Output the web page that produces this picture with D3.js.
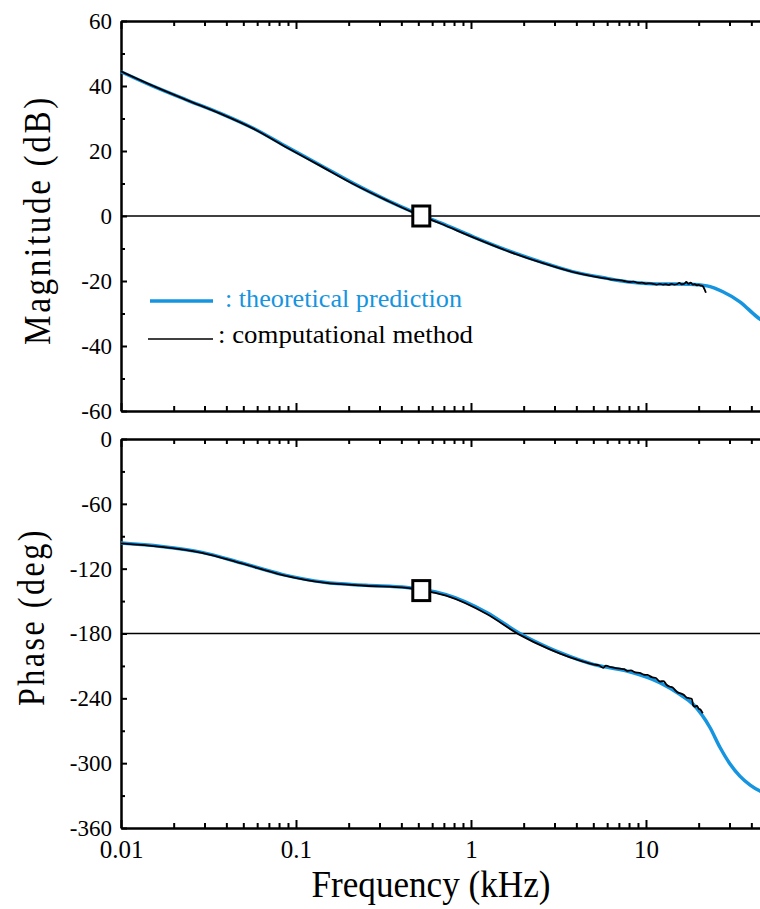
<!DOCTYPE html>
<html>
<head>
<meta charset="utf-8">
<script src="https://cdn.jsdelivr.net/npm/d3@7"></script>
<style>
  body { margin: 0; background: #fff; }
  svg text { font-family: "Liberation Serif", "Times New Roman", "DejaVu Serif", serif; fill: #000; }
</style>
</head>
<body>
<script>
// theoretical prediction (blue)
var magFreqT = [0.01, 0.015, 0.024, 0.037, 0.057, 0.089, 0.137, 0.21, 0.33, 0.47, 0.67, 1.03, 1.6, 2.5, 3.8, 6.0, 7.8, 11.5, 17.8, 22.3, 27.5, 34.4, 43, 50];
var magT     = [44.4, 40.1, 35.6, 31.6, 27.0, 21.2, 15.7, 10.2, 4.9, 1.2, -2.1, -6.4, -10.5, -14.1, -17.1, -19.2, -20.2, -20.9, -21.0, -21.5, -23.3, -26.4, -31.0, -33.5];
var phFreqT  = [0.01, 0.017, 0.029, 0.049, 0.084, 0.145, 0.25, 0.43, 0.52, 0.72, 1.23, 1.9, 2.8, 3.23, 5.0, 7.8, 12.0, 15.6, 18.6, 23.2, 26.5, 30.3, 34.4, 39.4, 44.8, 50];
var phT      = [-96.3, -99.4, -104.9, -114.8, -125.5, -132.6, -135.4, -137.5, -139.3, -144, -160.5, -180, -193.5, -197.8, -208.6, -214.8, -225.5, -236.3, -245.5, -267, -285.5, -301, -312, -320.3, -325.8, -329];

// computational method (black)
var magFreqC = [0.01, 0.015, 0.024, 0.037, 0.057, 0.089, 0.137, 0.21, 0.33, 0.47, 0.67, 1.03, 1.6, 2.5, 3.8, 5.0, 6.0, 6.5, 7.0, 7.5, 8.0, 8.5, 9.0, 9.5, 10, 10.5, 11, 11.5, 12, 12.5, 13, 13.5, 14, 14.5, 15, 15.5, 16, 16.5, 17, 17.5, 18, 18.5, 19, 19.5, 20, 20.5, 21, 21.5, 22];
var magC     = [44.5, 40.2, 35.6, 31.5, 26.9, 21.0, 15.5, 10.0, 4.8, 1.0, -2.3, -6.6, -10.7, -14.3, -17.2, -18.6, -19.3, -19.6, -19.7, -20.0, -20.3, -20.2, -20.6, -20.5, -20.8, -20.7, -20.9, -21.1, -20.9, -21.1, -21.0, -21.2, -20.9, -21.1, -21.0, -20.6, -21.0, -20.9, -20.3, -20.9, -20.5, -21.1, -21.0, -21.3, -21.2, -21.4, -21.5, -22.3, -23.6];
var phFreqC  = [0.01, 0.017, 0.029, 0.049, 0.084, 0.145, 0.25, 0.43, 0.52, 0.72, 1.23, 1.9, 2.8, 3.23, 4.0, 4.6, 5.0, 5.4, 5.7, 5.9, 6.3, 6.7, 7.1, 7.5, 7.8, 8.2, 8.7, 9.2, 9.7, 10.2, 10.8, 11.4, 12.0, 12.6, 13.1, 13.6, 14.2, 14.8, 15.2, 15.9, 16.5, 17.1, 17.6, 18.3, 18.6, 19.1, 19.5, 20.0, 20.5, 21.1];
var phC      = [-96.6, -99.8, -105.3, -115.2, -125.9, -133, -135.8, -137.8, -139.8, -145, -162, -181.3, -194.5, -198.6, -204.0, -207.0, -208.6, -209.6, -211.8, -209.8, -211.2, -212.0, -212.6, -213.0, -214.6, -214.2, -216.0, -216.4, -218.0, -218.4, -220.4, -221.2, -224.4, -224.0, -227.4, -229.0, -230.0, -233.0, -234.6, -235.6, -237.0, -239.4, -239.8, -240.6, -246.5, -247.8, -246.8, -249.5, -250.4, -253.8];

// crossover markers
var markFreq = [0.52];
var markMag = [0];
var markPh = [-140.3];

var magTicks = [-60, -40, -20, 0, 20, 40, 60];
var magMinor = [-50, -30, -10, 10, 30, 50];
var phTicks = [-360, -300, -240, -180, -120, -60, 0];
var phMinor = [-330, -270, -210, -150, -90, -30];
var xMajor = [0.01, 0.1, 1, 10];
var xLabels = ["0.01", "0.1", "1", "10"];
var xMinor = [0.02,0.03,0.04,0.05,0.06,0.07,0.08,0.09, 0.2,0.3,0.4,0.5,0.6,0.7,0.8,0.9, 2,3,4,5,6,7,8,9, 20,30,40];

var blue = "#1594e0";
var serif = "'Liberation Serif', 'Times New Roman', 'DejaVu Serif', serif";

var svg = d3.select("body").append("svg").attr("width", 760).attr("height", 909);

var x = d3.scaleLog().domain([0.01, 50]).range([121, 768.3]);
var yMag = d3.scaleLinear().domain([-60, 60]).range([411, 21]);
var yPh = d3.scaleLinear().domain([-360, 0]).range([828, 439]);

var panel = function(y, ticks, minor, withLabels){
    var top = y.range()[1], bottom = y.range()[0];
    // minor y ticks
    svg.append("g").attr("transform", "translate(121,0)")
        .call(d3.axisLeft(y).tickValues(minor).tickSize(-4).tickFormat(""))
        .call(function(g){ g.select(".domain").remove(); g.selectAll("line").attr("stroke-width", 2); });
    // major y ticks + labels
    var ya = svg.append("g").attr("transform", "translate(121,0)")
        .call(d3.axisLeft(y).tickValues(ticks).tickSize(-6).tickSizeOuter(0).tickPadding(9)
            .tickFormat(function(d){ return String(d); }));
    ya.attr("font-family", null);
    ya.select(".domain").attr("stroke-width", 2.5);
    ya.selectAll("line").attr("stroke-width", 2);
    ya.selectAll("text").attr("font-size", 23).style("font-family", serif);

    // bottom & top x ticks
    [[bottom, d3.axisBottom, -1], [top, d3.axisTop, 1]].forEach(function(s){
        svg.append("g").attr("transform", "translate(0," + s[0] + ")")
            .call(s[1](x).tickValues(xMinor).tickSize(-5).tickFormat(""))
            .call(function(g){ g.select(".domain").remove(); g.selectAll("line").attr("stroke-width", 2); });
        var xa = svg.append("g").attr("transform", "translate(0," + s[0] + ")")
            .call(s[1](x).tickValues(xMajor).tickSize(-8).tickSizeOuter(0).tickPadding(12)
                .tickFormat(function(d, i){ return (withLabels && s[2] < 0) ? xLabels[i] : ""; }));
        xa.attr("font-family", null);
        xa.select(".domain").attr("stroke-width", 2.5);
        xa.selectAll("line").attr("stroke-width", 2);
        xa.selectAll("text").attr("font-size", 25).style("font-family", serif);
    });
};

panel(yMag, magTicks, magMinor, false);
panel(yPh, phTicks, phMinor, true);

// reference lines
svg.append("line").attr("x1", 121).attr("x2", 760).attr("y1", yMag(0)).attr("y2", yMag(0))
    .attr("stroke", "#000").attr("stroke-width", 1.5);
svg.append("line").attr("x1", 121).attr("x2", 760).attr("y1", yPh(-180)).attr("y2", yPh(-180))
    .attr("stroke", "#000").attr("stroke-width", 1.5);

var magLine = d3.line().x(function(d){ return x(d[0]); }).y(function(d){ return yMag(d[1]); }).curve(d3.curveMonotoneX);
var phLine = d3.line().x(function(d){ return x(d[0]); }).y(function(d){ return yPh(d[1]); }).curve(d3.curveMonotoneX);

svg.append("path").datum(d3.zip(magFreqT, magT)).attr("d", magLine)
    .attr("fill", "none").attr("stroke", blue).attr("stroke-width", 3.5);
svg.append("path").datum(d3.zip(magFreqC, magC)).attr("d", magLine)
    .attr("fill", "none").attr("stroke", "#000").attr("stroke-width", 1.8);
svg.append("path").datum(d3.zip(phFreqT, phT)).attr("d", phLine)
    .attr("fill", "none").attr("stroke", blue).attr("stroke-width", 3.5);
svg.append("path").datum(d3.zip(phFreqC, phC)).attr("d", phLine)
    .attr("fill", "none").attr("stroke", "#000").attr("stroke-width", 1.8);

// square markers
svg.selectAll(".mk1").data(d3.zip(markFreq, markMag)).enter().append("rect")
    .attr("x", function(d){ return x(d[0]) - 8.5; }).attr("y", function(d){ return yMag(d[1]) - 10; })
    .attr("width", 17).attr("height", 20).attr("fill", "#fff").attr("stroke", "#000").attr("stroke-width", 3);
svg.selectAll(".mk2").data(d3.zip(markFreq, markPh)).enter().append("rect")
    .attr("x", function(d){ return x(d[0]) - 8.5; }).attr("y", function(d){ return yPh(d[1]) - 10; })
    .attr("width", 17).attr("height", 20).attr("fill", "#fff").attr("stroke", "#000").attr("stroke-width", 3);

// legend
svg.append("line").attr("x1", 150).attr("x2", 213).attr("y1", 301).attr("y2", 301)
    .attr("stroke", blue).attr("stroke-width", 3.5);
svg.append("text").attr("x", 225).attr("y", 307).attr("font-size", 26).style("fill", blue)
    .attr("textLength", 237).attr("lengthAdjust", "spacingAndGlyphs").text(": theoretical prediction");
svg.append("line").attr("x1", 148).attr("x2", 213).attr("y1", 339).attr("y2", 339)
    .attr("stroke", "#000").attr("stroke-width", 1.5);
svg.append("text").attr("x", 218).attr("y", 343).attr("font-size", 26)
    .attr("textLength", 255).attr("lengthAdjust", "spacingAndGlyphs").text(": computational method");

// axis titles
svg.append("text").attr("transform", "translate(50,220) rotate(-90)").attr("text-anchor", "middle")
    .attr("font-size", 38).style("letter-spacing", "3px")
    .attr("textLength", 250).attr("lengthAdjust", "spacingAndGlyphs").text("Magnitude (dB)");
svg.append("text").attr("transform", "translate(44,617) rotate(-90)").attr("text-anchor", "middle")
    .attr("font-size", 38).style("letter-spacing", "3px")
    .attr("textLength", 178).attr("lengthAdjust", "spacingAndGlyphs").text("Phase (deg)");
svg.append("text").attr("x", 431).attr("y", 897).attr("text-anchor", "middle")
    .attr("font-size", 38).attr("textLength", 239).attr("lengthAdjust", "spacingAndGlyphs")
    .text("Frequency (kHz)");
</script>
</body>
</html>
